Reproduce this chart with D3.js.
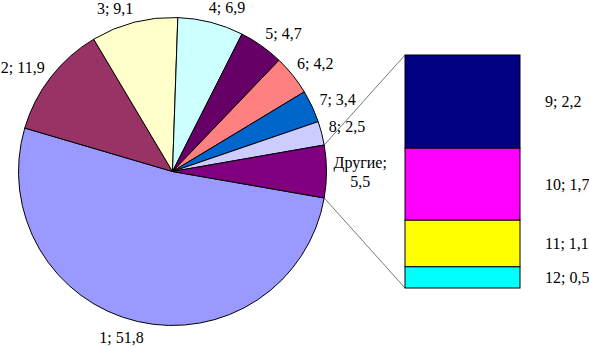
<!DOCTYPE html>
<html>
<head>
<meta charset="utf-8">
<script src="https://cdn.jsdelivr.net/npm/d3@7"></script>
</head>
<body style="margin:0; background:#fff">
<script>
// pie slices, clockwise, last one is the "other" slice split into the bar
var pieLabels = ["1", "2", "3", "4", "5", "6", "7", "8", "Другие"]
var pieValues = [51.8, 11.9, 9.1, 6.9, 4.7, 4.2, 3.4, 2.5, 5.5]
var pieColors = ["#9999FF", "#993366", "#FFFFCC", "#CCFFFF", "#660066", "#FF8080", "#0066CC", "#CCCCFF", "#800080"]

// bar of the "other" slice, top to bottom
var barLabels = ["9", "10", "11", "12"]
var barValues = [2.2, 1.7, 1.1, 0.5]
var barColors = ["#000080", "#FF00FF", "#FFFF00", "#00FFFF"]

var width = 589, height = 347
var cx = 172.5, cy = 171.5, r = 154
var barX = 405, barW = 115, barTop = 55, barBottom = 288
var font = "'Liberation Serif'"
// small angular shifts (degrees) the spreadsheet applied to spread the labels
var labelShift = [4, -3, -5, 4, 3.5, 1.5, 1.5, 0, 0]

var fmt = d3.formatLocale({ decimal: ",", thousands: " ", grouping: [3], currency: ["", ""] }).format(".1f")

var svg = d3.select("body").append("svg")
    .attr("width", width)
    .attr("height", height)

var total = d3.sum(pieValues)
var otherAngle = 2 * Math.PI * pieValues[pieValues.length - 1] / total
// "other" slice is centred on 3 o'clock
var start = Math.PI / 2 + otherAngle / 2

var pie = d3.pie().sort(null).value(function (d) { return d })
    .startAngle(start).endAngle(start + 2 * Math.PI)
var arcs = pie(pieValues)

var arc = d3.arc().innerRadius(0).outerRadius(r)

var g = svg.append("g").attr("transform", "translate(" + cx + "," + cy + ")")

g.selectAll("path.slice")
    .data(arcs)
    .enter().append("path")
    .attr("class", "slice")
    .attr("d", arc)
    .attr("fill", function (d, i) { return pieColors[i] })
    .attr("stroke", "#000")
    .attr("stroke-width", 1)

// connector lines from the "other" slice to the bar
var other = arcs[arcs.length - 1]
function polar(a, rad) {
    return [cx + rad * Math.sin(a), cy - rad * Math.cos(a)]
}
var p0 = polar(other.startAngle, r), p1 = polar(other.endAngle, r)
svg.append("line")
    .attr("x1", p0[0]).attr("y1", p0[1])
    .attr("x2", barX).attr("y2", barTop)
    .attr("stroke", "#555").attr("stroke-width", 0.8)
svg.append("line")
    .attr("x1", p1[0]).attr("y1", p1[1])
    .attr("x2", barX).attr("y2", barBottom)
    .attr("stroke", "#555").attr("stroke-width", 0.8)

// pie labels, outside end
arcs.forEach(function (d, i) {
    var mid = (d.startAngle + d.endAngle) / 2 + labelShift[i] * Math.PI / 180
    var s = Math.sin(mid), c = Math.cos(mid)
    var t = svg.append("text")
        .attr("text-anchor", "middle")
        .style("font-family", font)
        .style("font-size", "16px")
    var lines = i === arcs.length - 1
        ? [pieLabels[i] + ";", fmt(pieValues[i])]
        : [pieLabels[i] + "; " + fmt(pieValues[i])]
    lines.forEach(function (l, k) {
        t.append("tspan").attr("x", 0).attr("dy", k === 0 ? 0 : 19)
            .style("font-family", font).text(l)
    })
    var w = t.node().getBBox().width
    var h = 12 + (lines.length - 1) * 19
    var dist = r + 7 + Math.abs(s) * w / 2 + Math.abs(c) * h / 2
    var px = cx + dist * s, py = cy - dist * c
    py = Math.max(py, h / 2 + 1)
    t.attr("transform", "translate(" + px + "," + (py - (lines.length - 1) * 19 / 2 + 5.5) + ")")
})

// bar of the other slice
var y = d3.scaleLinear().domain([0, d3.sum(barValues)]).range([barTop, barBottom])
var acc = 0
var segs = barValues.map(function (v, i) {
    var s = { y0: acc, y1: acc + v, i: i }
    acc += v
    return s
})

svg.selectAll("rect.seg")
    .data(segs)
    .enter().append("rect")
    .attr("class", "seg")
    .attr("x", barX)
    .attr("width", barW)
    .attr("y", function (d) { return y(d.y0) })
    .attr("height", function (d) { return y(d.y1) - y(d.y0) })
    .attr("fill", function (d) { return barColors[d.i] })
    .attr("stroke", "#000")
    .attr("stroke-width", 1)

svg.selectAll("text.bl")
    .data(segs)
    .enter().append("text")
    .attr("class", "bl")
    .style("font-family", font)
    .style("font-size", "16px")
    .attr("x", barX + barW + 25)
    .attr("y", function (d) { return (y(d.y0) + y(d.y1)) / 2 + 5.5 })
    .text(function (d) { return barLabels[d.i] + "; " + fmt(barValues[d.i]) })
</script>
</body>
</html>
